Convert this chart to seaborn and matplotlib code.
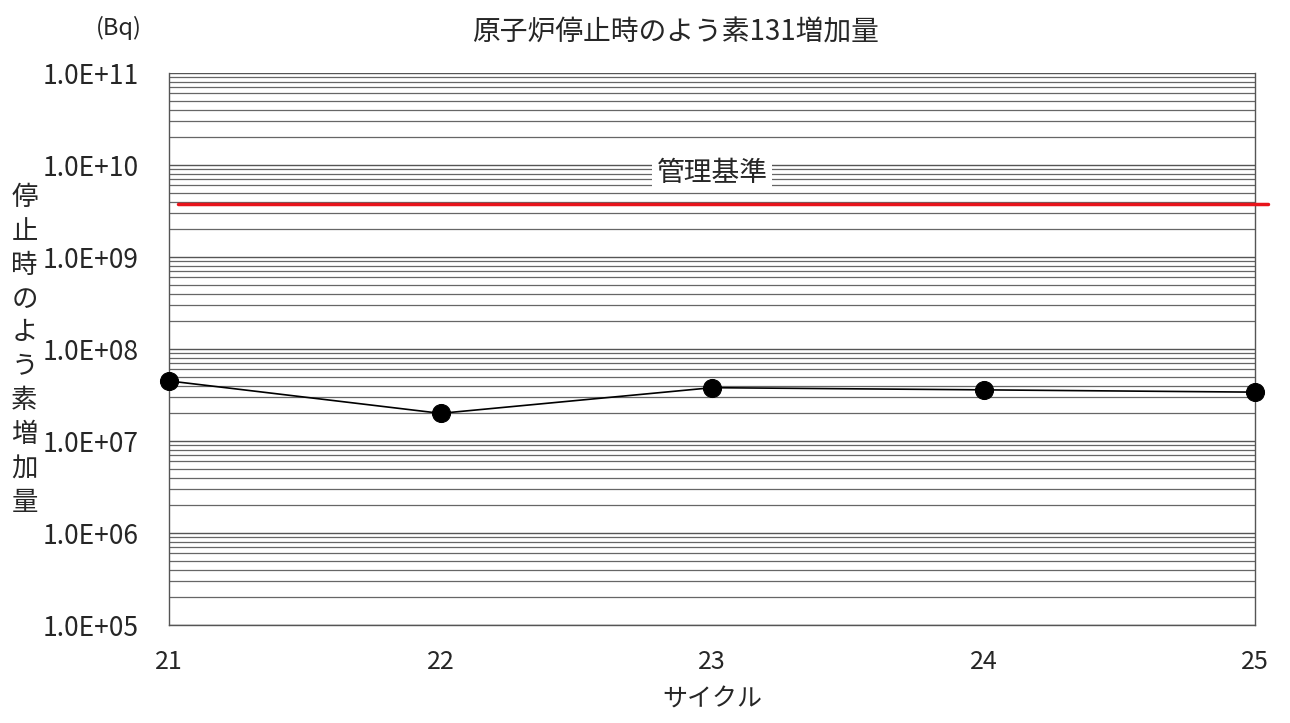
import numpy as np
import pandas as pd
import seaborn as sns
import matplotlib.pyplot as plt
from matplotlib.ticker import LogLocator, NullFormatter, FixedLocator

# data
cycles = [21, 22, 23, 24, 25]
iodine_increase = [4.5e7, 2.0e7, 3.8e7, 3.6e7, 3.4e7]
control_limit = 3.8e9
y_ticks = [1e5, 1e6, 1e7, 1e8, 1e9, 1e10, 1e11]
y_tick_labels = ['1.0E+05', '1.0E+06', '1.0E+07', '1.0E+08', '1.0E+09', '1.0E+10', '1.0E+11']

df = pd.DataFrame({'cycle': cycles, 'value': iodine_increase})

sns.set_theme(style='white')
plt.rcParams['font.family'] = ['Noto Sans CJK JP', 'DejaVu Sans']

fig = plt.figure(figsize=(12.9, 7.23), dpi=100)
ax = fig.add_axes([0.131, 0.1355, 0.842, 0.7635])

ax.set_yscale('log')
ax.set_ylim(1e5, 1e11)
ax.set_xlim(21, 25)

# grid: major + minor horizontal lines
ax.yaxis.set_major_locator(FixedLocator(y_ticks))
ax.yaxis.set_minor_locator(LogLocator(base=10, subs=np.arange(2, 10)))
ax.yaxis.set_minor_formatter(NullFormatter())
ax.grid(True, axis='y', which='major', color='#555555', linewidth=1.0)
ax.grid(True, axis='y', which='minor', color='#666666', linewidth=0.9)
ax.grid(False, axis='x')

sns.lineplot(data=df, x='cycle', y='value', ax=ax, color='black', linewidth=1.2,
             marker='o', markersize=13, markeredgecolor='black', clip_on=False, zorder=5)

# control limit line
ax.axhline(control_limit, xmin=0.008, xmax=1.012, color='#e8141b', linewidth=2.5,
           clip_on=False, zorder=4)
ax.text(23, 8.2e9, '管理基準', ha='center', va='center', fontsize=20, zorder=6,
        bbox=dict(facecolor='white', edgecolor='none', pad=3))

ax.set_xticks(cycles)
ax.set_xticklabels([str(c) for c in cycles], fontsize=18)
ax.set_yticks(y_ticks)
ax.set_yticklabels(y_tick_labels, fontsize=19)
ax.tick_params(axis='y', which='both', length=0, pad=22)
ax.tick_params(axis='x', direction='in', length=5, pad=17, color='#444444')
ax.set_xlabel('')
ax.set_ylabel('')

for s in ax.spines.values():
    s.set_color('#555555')
    s.set_linewidth(1.0)
ax.spines['top'].set_visible(False)

fig.text(0.524, 0.955, '原子炉停止時のよう素131増加量', ha='center', va='center', fontsize=20)
fig.text(0.092, 0.962, '(Bq)', ha='center', va='center', fontsize=17)
fig.text(0.552, 0.032, 'サイクル', ha='center', va='center', fontsize=18)
fig.text(0.019, 0.516, '\n'.join('停止時のよう素増加量'), ha='center', va='center',
         fontsize=19, linespacing=1.33)

fig.savefig('out.png', dpi=100)
